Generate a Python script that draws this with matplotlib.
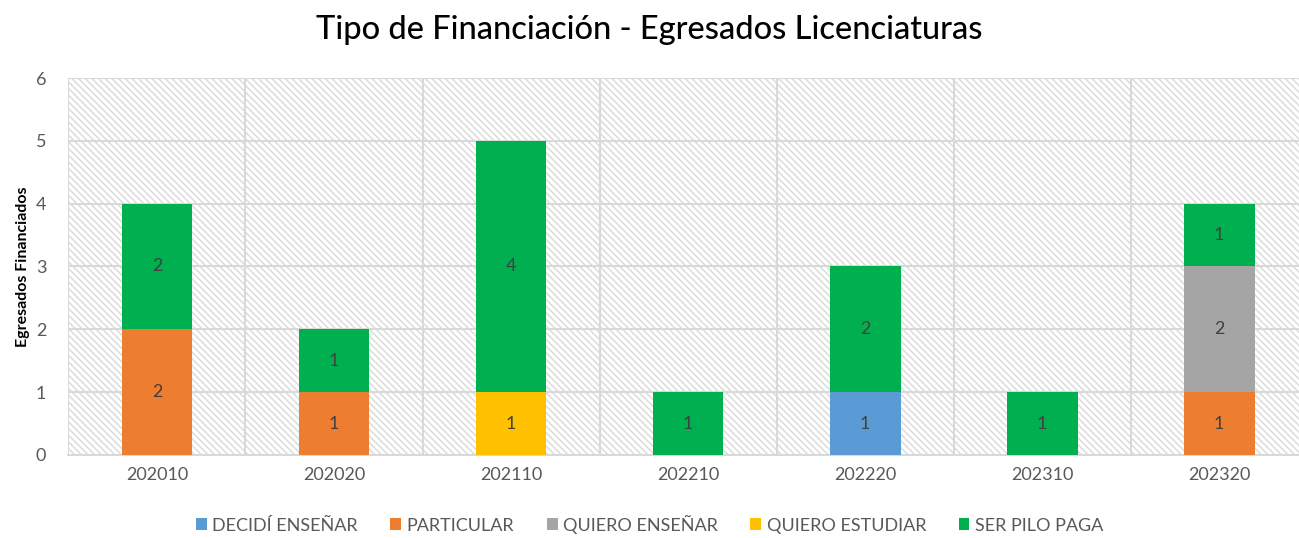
import matplotlib.pyplot as plt
import matplotlib.patches as mpatches
import numpy as np

plt.rcParams['font.family'] = ['Lato', 'DejaVu Sans']
plt.rcParams['hatch.linewidth'] = 1.0
plt.rcParams['hatch.color'] = '#d9d9d9'

periodos = ['202010', '202020', '202110', '202210', '202220', '202310', '202320']
decidi_ensenar = [0, 0, 0, 0, 1, 0, 0]
particular = [2, 1, 0, 0, 0, 0, 1]
quiero_ensenar = [0, 0, 0, 0, 0, 0, 2]
quiero_estudiar = [0, 0, 1, 0, 0, 0, 0]
ser_pilo_paga = [2, 1, 4, 1, 2, 1, 1]

series = [
    ('DECIDÍ ENSEÑAR', decidi_ensenar, '#5B9BD5'),
    ('PARTICULAR', particular, '#ED7D31'),
    ('QUIERO ENSEÑAR', quiero_ensenar, '#A5A5A5'),
    ('QUIERO ESTUDIAR', quiero_estudiar, '#FFC000'),
    ('SER PILO PAGA', ser_pilo_paga, '#00B050'),
]

fig = plt.figure(figsize=(12.99, 5.38), dpi=100)
ax = fig.add_axes([0.0527, 0.1543, 0.954, 0.7007])

x = np.arange(len(periodos))
ax.set_xlim(-0.5, len(periodos) - 0.5)
ax.set_ylim(0, 6)

# hatched plot background
ax.add_patch(mpatches.Rectangle((0, 0), 1, 1, transform=ax.transAxes,
                                facecolor='white', edgecolor='#d9d9d9',
                                hatch='\\\\\\\\\\', linewidth=0, zorder=0))

for y in range(1, 7):
    ax.axhline(y, color='#d9d9d9', linewidth=1.5, zorder=1)
for b in np.arange(-0.5, len(periodos), 1.0):
    ax.axvline(b, color='#d9d9d9', linewidth=1.5, zorder=1)

bottom = np.zeros(len(periodos))
for name, vals, col in series:
    vals = np.array(vals, dtype=float)
    ax.bar(x, vals, 0.4, bottom=bottom, color=col, label=name, zorder=3)
    for xi, v, b in zip(x, vals, bottom):
        if v > 0:
            ax.text(xi, b + v / 2, '%d' % v, ha='center', va='center',
                    fontsize=13, color='#404040', zorder=4)
    bottom += vals

for s in ['top', 'right', 'left']:
    ax.spines[s].set_visible(False)
ax.spines['bottom'].set_color('#d9d9d9')
ax.spines['bottom'].set_linewidth(1.5)

ax.set_xticks(x)
ax.set_xticklabels(periodos)
ax.set_yticks(range(0, 7))
ax.tick_params(axis='both', length=0, labelsize=13, labelcolor='#595959')
ax.tick_params(axis='y', pad=16)
ax.tick_params(axis='x', pad=9)

ax.set_ylabel('Egresados Financiados', fontsize=11.5, fontweight='bold',
              color='black', labelpad=4)

fig.suptitle('Tipo de Financiación - Egresados Licenciaturas', fontsize=23.5,
             y=0.972, color='black', fontweight='medium')

leg = fig.legend(loc='lower center', bbox_to_anchor=(0.5, -0.022), ncol=5,
                 frameon=False, fontsize=13, handlelength=0.6,
                 handleheight=0.6, handletextpad=0.3, columnspacing=1.8)
for t in leg.get_texts():
    t.set_color('#595959')

fig.savefig('out.png', dpi=100)
